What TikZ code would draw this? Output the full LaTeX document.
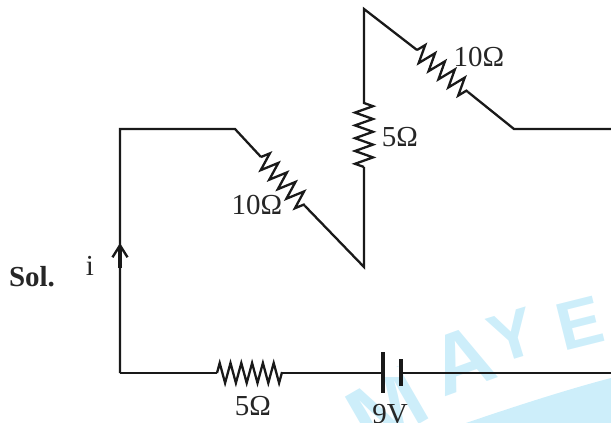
\documentclass[tikz,border=0pt]{standalone}
\usepackage{fontspec}
\setmainfont{Liberation Serif}
\setsansfont{Liberation Sans}
\usetikzlibrary{decorations.pathmorphing,arrows.meta}
\definecolor{wm}{RGB}{205,238,250}
\tikzset{x=1pt,y=-1pt,
 wire/.style={draw=black!90,line width=2.3pt,line join=miter},
 zig/.style={decorate,decoration={zigzag,segment length=12.8pt,amplitude=9pt}},
 zigh/.style={decorate,decoration={zigzag,segment length=10.8pt,amplitude=10pt}},
 lab/.style={font=\fontsize{29}{29}\selectfont,text=black!85,inner sep=0pt,anchor=center},
 wmark/.style={font=\fontsize{#1}{#1}\selectfont\sffamily\bfseries,text=wm,inner sep=0pt}}
\begin{document}
\begin{tikzpicture}
\useasboundingbox (0,0) rectangle (611,423);
\begin{scope}
\clip (0,0) rectangle (611,423);
\fill[wm] (611,378) .. controls (565,390) and (510,408) .. (466,423) -- (611,423) -- cycle;
\node[wmark=88,rotate=30] (wm1) at (387,408) {M};
\node[wmark=84,rotate=20] (wm2) at (462,360) {A};
\node[wmark=68,rotate=17] (wm3) at (512,335) {Y};
\node[wmark=68,rotate=14] (wm4) at (580,323) {E};
\end{scope}
\coordinate (a) at (120,373);
\coordinate (b) at (120,129);
\coordinate (c) at (235,129);
\coordinate (r1a) at (261,157);
\coordinate (r1b) at (305,206);
\coordinate (d) at (364,267);
\coordinate (r2a) at (364,102);
\coordinate (r2b) at (364,167);
\coordinate (e) at (364,9);
\coordinate (r3a) at (417,50);
\coordinate (r3b) at (468,92);
\coordinate (f) at (514,129);
\coordinate (g) at (611,129);
\coordinate (r4a) at (217,373);
\coordinate (r4b) at (282,373);
\coordinate (bat1) at (383,373);
\coordinate (bat2) at (401,373);
\coordinate (h) at (611,373);
\fill[white] (383,367) rectangle (401,377);
\draw[wire] (a) -- (b) -- (c) -- (r1a);
\draw[wire,zig] (r1a) -- (r1b);
\draw[wire] (r1b) -- (d) -- (r2b);
\draw[wire,zig] (r2b) -- (r2a);
\draw[wire] (r2a) -- (e) -- (r3a);
\draw[wire,zig] (r3a) -- (r3b);
\draw[wire] (r3b) -- (f) -- (g);
\draw[wire] (a) -- (r4a);
\draw[wire,zigh] (r4a) -- (r4b);
\draw[wire] (r4b) -- (bat1);
\draw[wire,line width=3.2pt] (383,352) -- (383,393);
\draw[wire,line width=3.2pt] (401,359) -- (401,386);
\draw[wire] (bat2) -- (h);
\coordinate (ar) at (120,243);
\coordinate (arb) at (120,268);
\draw[wire,line width=3.2pt,-{Straight Barb[length=12pt,width=15pt,line width=2.4pt]}] (arb) -- (ar);
\node[lab] (l1) at (479,57) {10Ω};
\node[lab] (l2) at (400,137) {5Ω};
\node[lab] (l3) at (257,205) {10Ω};
\node[lab] (l4) at (253,406) {5Ω};
\node[lab] (l5) at (390,414) {9V};
\node[lab] (l6) at (90,266) {i};
\node[lab,font=\fontsize{29}{29}\selectfont\bfseries] (sol) at (32,277) {Sol.};
\end{tikzpicture}
\end{document}
